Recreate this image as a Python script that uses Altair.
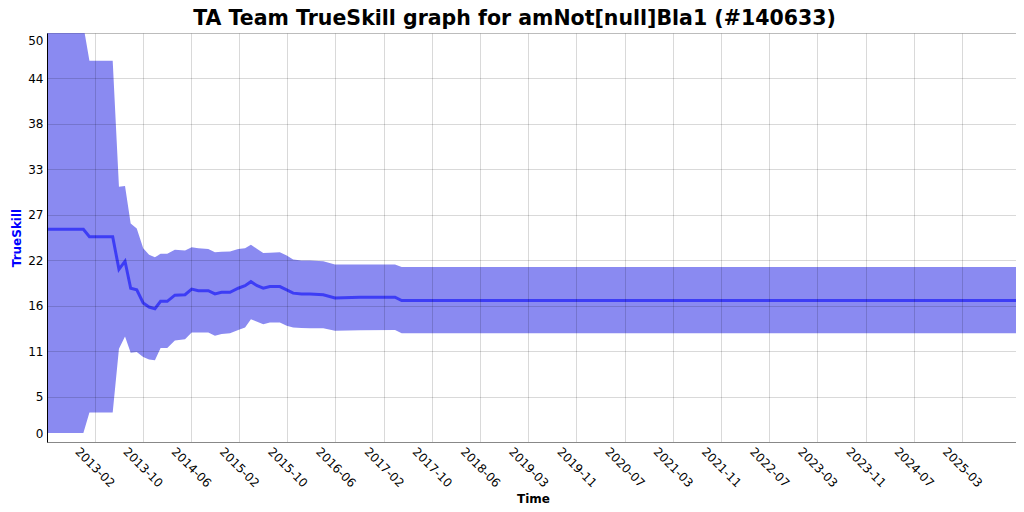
import altair as alt
import pandas as pd

# ---- data ----
dates = ["2012-06-05", "2012-12-08", "2013-01-08", "2013-05-07", "2013-06-08",
         "2013-07-09", "2013-08-07", "2013-09-07", "2013-10-10", "2013-11-09",
         "2013-12-09", "2014-01-07", "2014-02-10", "2014-03-21", "2014-05-12",
         "2014-06-15", "2014-07-19", "2014-09-08", "2014-10-12", "2014-11-15",
         "2014-12-28", "2015-02-08", "2015-03-15", "2015-04-14", "2015-05-16",
         "2015-06-16", "2015-07-20", "2015-09-09", "2015-10-14", "2015-11-16",
         "2015-12-29", "2016-02-10", "2016-04-18", "2016-06-17", "2016-10-23",
         "2017-04-20", "2017-05-24", "2026-01-19"]
mean = [26.0, 26.0, 25.1, 25.1, 21.1, 22.1, 18.8, 18.6, 17.0, 16.5,
        16.3, 17.2, 17.2, 17.95, 18.0, 18.7, 18.5, 18.5, 18.1, 18.3,
        18.3, 18.8, 19.1, 19.6, 19.1, 18.8, 19.0, 19.0, 18.6, 18.2,
        18.1, 18.1, 18.0, 17.6, 17.7, 17.7, 17.3, 17.3]
upper = [50.9, 50.9, 46.6, 46.6, 31.2, 31.3, 26.7, 26.1, 23.7, 22.9,
         22.6, 23.0, 23.0, 23.5, 23.4, 23.8, 23.7, 23.6, 23.2, 23.25,
         23.3, 23.6, 23.7, 24.1, 23.6, 23.1, 23.15, 23.2, 22.8, 22.3,
         22.2, 22.2, 22.1, 21.7, 21.7, 21.7, 21.4, 21.4]
lower = [1.1, 1.1, 3.6, 3.6, 11.4, 12.9, 10.9, 11.0, 10.4, 10.1,
         10.0, 11.5, 11.5, 12.4, 12.55, 13.4, 13.4, 13.4, 13.0, 13.2,
         13.3, 13.7, 14.0, 15.0, 14.7, 14.4, 14.6, 14.6, 14.2, 14.0,
         13.95, 13.9, 13.9, 13.6, 13.65, 13.7, 13.3, 13.3]

x_domain = [(2012, 6, 5), (2025, 12, 30)]
x_ticks = [(2013, 2, 3), (2013, 10, 7), (2014, 6, 11), (2015, 2, 12), (2015, 10, 17),
           (2016, 6, 19), (2017, 2, 21), (2017, 10, 25), (2018, 6, 29), (2019, 3, 2),
           (2019, 11, 4), (2020, 7, 7), (2021, 3, 11), (2021, 11, 12), (2022, 7, 17),
           (2023, 3, 20), (2023, 11, 22), (2024, 7, 25), (2025, 3, 29)]
y_ticks = [0, 5.5556, 11.1111, 16.6667, 22.2222, 27.7778, 33.3333, 38.8889, 44.4444, 50]

TITLE = "TA Team TrueSkill graph for amNot[null]Bla1 (#140633)"

df = pd.DataFrame({"date": dates, "mean": mean, "upper": upper, "lower": lower})

FONT = "DejaVu Sans"

def dt(t):
    return alt.DateTime(year=t[0], month=t[1], date=t[2], utc=True)

x_scale = alt.Scale(domain=[dt(x_domain[0]), dt(x_domain[1])], type="utc")
y_scale = alt.Scale(domain=[0, 50], nice=False, zero=False)

x_axis = alt.Axis(
    values=[dt(t) for t in x_ticks], labelExpr="utcFormat(datum.value, '%Y-%m')",
    labelAngle=45, labelAlign="center", labelBaseline="middle",
    labelPadding=25, ticks=False, tickSize=0,
    labelFont=FONT, labelFontSize=12, labelColor="#000000",
    grid=True, gridColor="#000000", gridOpacity=0.15, gridWidth=1,
    domainColor="#888888", domainWidth=1, zindex=1,
    title="Time", titleFont=FONT, titleFontSize=12, titleFontWeight="bold",
    titleColor="#000000", titleX=486, titleY=60, titleBaseline="alphabetic",
    titleAlign="center", labelOverlap=False,
)
y_axis = alt.Axis(
    values=y_ticks, labelExpr="floor(datum.value)",
    labelFlush=True, labelFlushOffset=-2,
    ticks=False, tickSize=0, labelPadding=4,
    labelFont=FONT, labelFontSize=12, labelColor="#000000",
    grid=True, gridColor="#000000", gridOpacity=0.15, gridWidth=1,
    domainColor="#000000", domainWidth=1, zindex=1,
    title="TrueSkill", titleFont=FONT, titleFontSize=12, titleFontWeight="bold",
    titleColor="#0000ff", titleX=-31, titleY=204.5, titleAngle=270,
    titleBaseline="middle", titleAlign="center", labelOverlap=False,
)

base = alt.Chart(df)
band = base.mark_area(color="#8a8af1", opacity=1, clip=True).encode(
    x=alt.X("date:T", scale=x_scale, axis=x_axis),
    y=alt.Y("lower:Q", scale=y_scale, axis=y_axis),
    y2="upper:Q",
)
line = base.mark_line(color="#3d3df5", strokeWidth=3, clip=True).encode(
    x=alt.X("date:T", scale=x_scale),
    y=alt.Y("mean:Q", scale=y_scale),
)

chart = alt.layer(band, line).properties(
    width=969, height=409,
    padding={"left": 39, "top": 25, "right": 0, "bottom": 62},
    autosize=alt.AutoSizeParams(type="none"),
    title=alt.TitleParams(
        text=TITLE, font=FONT, fontSize=20.5, fontWeight="bold", color="#000000",
        anchor="middle", frame="group", dx=-17, dy=21, baseline="alphabetic", offset=9,
    ),
).configure_view(fill="#e4e4e4", stroke="transparent").configure(background="#ffffff")

chart.save("out.html", embed_options={"renderer": "svg", "actions": False})
